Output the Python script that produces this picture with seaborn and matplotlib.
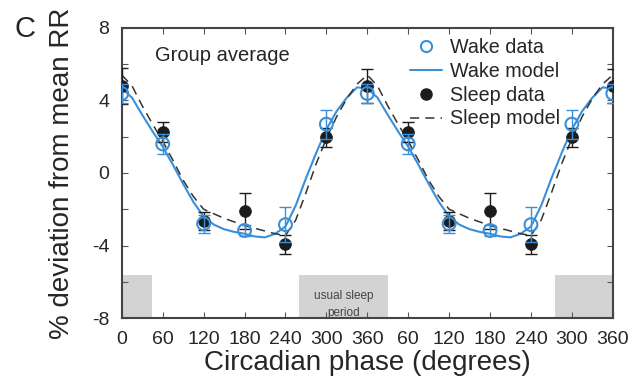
import matplotlib
from matplotlib import pyplot as plt
import seaborn as sns
import numpy as np
import pandas as pd

# measured phases (one cycle) and group means / s.e.m.
phase = [0, 60, 120, 180, 240, 300, 360]
wake_mean = [4.38, 1.6, -2.8, -3.17, -2.85, 2.69, 4.38]
wake_err = [0.5, 0.55, 0.5, 0.3, 0.95, 0.8, 0.5]
sleep_mean = [4.8, 2.27, -2.65, -2.1, -3.94, 1.97, 4.8]
sleep_err = [0.98, 0.55, 0.5, 1.0, 0.5, 0.52, 0.95]

# model curves, read every 15 degrees over one cycle
model_phase = [0, 15, 30, 45, 60, 75, 90, 105, 120, 135, 150, 165, 180,
               195, 210, 225, 240, 255, 270, 285, 300, 315, 330, 345, 360]
wake_model = [4.65, 4.15, 3.2, 2.3, 1.45, 0.45, -0.6, -1.6, -2.4, -2.85, -3.1, -3.25, -3.35,
              -3.5, -3.55, -3.35, -2.95, -1.8, -0.3, 1.1, 2.4, 3.4, 4.15, 4.72, 4.65]
sleep_model = [5.4, 4.8, 3.7, 2.7, 1.75, 0.7, -0.4, -1.3, -2.0, -2.25, -2.5, -2.7, -2.9,
               -3.05, -3.2, -3.35, -3.45, -2.6, -1.1, 0.5, 1.9, 3.1, 4.1, 4.9, 5.4]

# usual sleep period (double plotted): start, end in degrees
sleep_bands = [(0, 45), (260, 390), (635, 720)]
tick_pos = [0, 60, 120, 180, 240, 300, 360, 420, 480, 540, 600, 660, 720]
tick_lab = ["0", "60", "120", "180", "240", "300", "360",
            "60", "120", "180", "240", "300", "360"]

BLUE = "#3b8fd9"
DARK = "#1c1c1c"

sns.set_style("ticks")
plt.rcParams['font.family'] = ['Liberation Sans', 'DejaVu Sans']
plt.rcParams['axes.unicode_minus'] = False

##{ double plotted frames
def double(x, y):
    x2 = list(x) + [v + 360 for v in x[1:]]
    y2 = list(y) + list(y[1:])
    return x2, y2

x_d, wm = double(phase, wake_mean)
_, we = double(phase, wake_err)
_, sm = double(phase, sleep_mean)
_, se = double(phase, sleep_err)
data = pd.DataFrame({"phase": x_d, "wake": wm, "wake_err": we,
                     "sleep": sm, "sleep_err": se})

xm, wmod = double(model_phase, wake_model)
_, smod = double(model_phase, sleep_model)
model = pd.DataFrame({"phase": xm, "wake": wmod, "sleep": smod})
##}

fig = plt.figure(figsize=(6.41, 3.76), dpi=100)
ax = fig.add_axes([0.190, 0.154, 0.766, 0.772])

for a, b in sleep_bands:
    ax.fill_between([a, b], -8, -5.62, color="#d3d3d3", lw=0, zorder=0)
ax.text(325, -6.8, "usual sleep", ha="center", va="center", fontsize=8.5, color="#444444")
ax.text(325, -7.7, "period", ha="center", va="center", fontsize=8.5, color="#444444")

sns.lineplot(data=model, x="phase", y="wake", ax=ax, color=BLUE, lw=1.5, zorder=2)
sns.lineplot(data=model, x="phase", y="sleep", ax=ax, color="#333333", lw=1.1,
             zorder=2).lines[-1].set_dashes([6, 4])

ax.errorbar(data["phase"], data["sleep"], yerr=data["sleep_err"], fmt="none",
            ecolor=DARK, elinewidth=1, capsize=4, capthick=1, zorder=3)
sns.scatterplot(data=data, x="phase", y="sleep", ax=ax, color=DARK, s=70,
                edgecolor=DARK, zorder=4)
ax.errorbar(data["phase"], data["wake"], yerr=data["wake_err"], fmt="none",
            ecolor=BLUE, elinewidth=1, capsize=4, capthick=1, zorder=5)
sns.scatterplot(data=data, x="phase", y="wake", ax=ax, marker="o", s=85,
                facecolor="none", edgecolor=BLUE, linewidth=1.5, zorder=6)

ax.set_xlim(0, 720)
ax.set_ylim(-8, 8)
ax.set_xticks(tick_pos)
ax.set_xticklabels(tick_lab)
ax.set_yticks([-8, -4, 0, 4, 8])
ax.set_yticks([-6, -2, 2, 6], minor=True)
ax.tick_params(which="both", direction="in", top=True, right=True, length=4,
               width=0.8, color="#555555", labelsize=14)
ax.tick_params(axis="x", pad=9)
ax.tick_params(axis="y", pad=9)
for s in ax.spines.values():
    s.set_linewidth(1.5)
    s.set_color("#444444")

ax.set_xlabel("Circadian phase (degrees)", fontsize=20, labelpad=2)
ax.set_ylabel("% deviation from mean RR", fontsize=20, labelpad=12)
ax.text(48, 6.5, "Group average", fontsize=14.5, va="center")
fig.text(0.023, 0.902, "C", fontsize=21)

handles = [
    plt.Line2D([], [], ls="none", marker="o", mfc="none", mec=BLUE, mew=1.5, ms=8),
    plt.Line2D([], [], color=BLUE, lw=1.5),
    plt.Line2D([], [], ls="none", marker="o", color=DARK, ms=8),
    plt.Line2D([], [], color="#333333", lw=1.1, ls=(0, (6, 4))),
]
ax.legend(handles, ["Wake data", "Wake model", "Sleep data", "Sleep model"],
          loc="upper right", bbox_to_anchor=(0.912, 1.0), frameon=False,
          fontsize=14.2, handlelength=1.6, handletextpad=0.4, labelspacing=0.25,
          borderaxespad=0.1)

fig.savefig("out.png", dpi=100)
